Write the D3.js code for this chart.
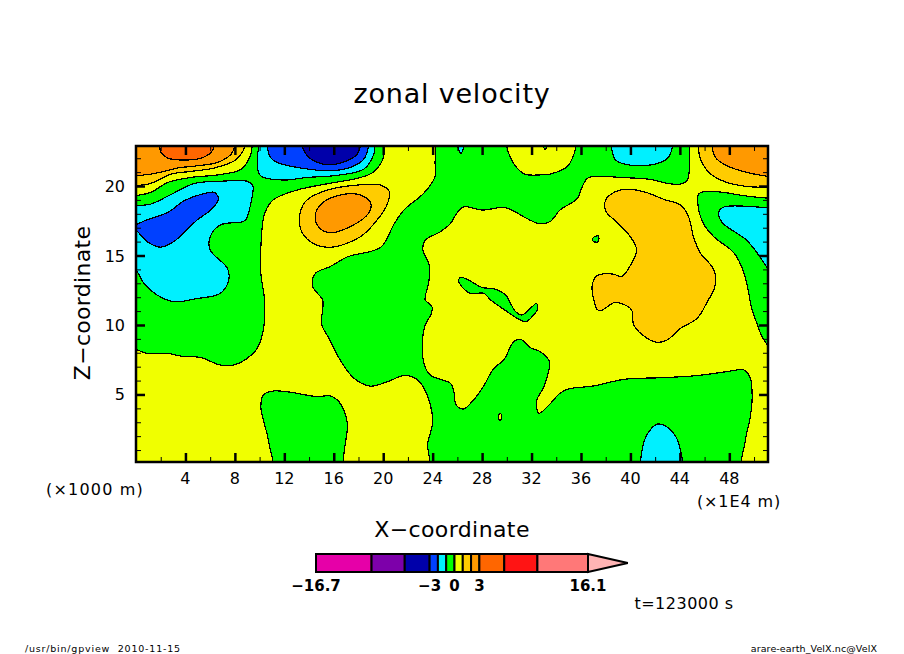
<!DOCTYPE html>
<html>
<head>
<meta charset="utf-8">
<title>zonal velocity</title>
<script src="https://cdn.jsdelivr.net/npm/d3@7"></script>
<style>
body { margin: 0; background: #fff; }
svg { display: block; }
text { font-family: "DejaVu Sans", sans-serif; fill: #000; white-space: pre; }
.axis path { display: none; }
.axis line { stroke: #000; }
.contour { stroke: #000; stroke-width: 1.2; shape-rendering: crispEdges; }
</style>
</head>
<body>
<div id="chart"></div>
<script>
// contour levels and the colour of each band between them
const levels = [-16.7, -10, -6, -3, -2, -1, 0, 1, 2, 3, 6, 10, 16.1]
const bandColors = ['#ff0000', '#e600a8', '#7d00aa', '#0000aa', '#0040ff', '#00f0ff', '#00ff00',
    '#f0ff00', '#ffcc00', '#ff9900', '#ff6600', '#ff1414', '#ff7878', '#ffb4b4']
const barLabels = [-16.7, -3, 0, 3, 16.1]
const barTipValue = 20.9

const xMajorTicks = [4, 8, 12, 16, 20, 24, 28, 32, 36, 40, 44, 48]
const xMinorTicks = [2, 6, 10, 14, 18, 22, 26, 30, 34, 38, 42, 46, 50]
const zMajorTicks = [5, 10, 15, 20]
const zMinorTicks = [1, 2, 3, 4, 6, 7, 8, 9, 11, 12, 13, 14, 16, 17, 18, 19, 21, 22]

// contours: [x (1E4 m), z (1000 m)], closed outside the frame where they leave it
const yellowLeft = [[-1,8.5],[0.1,8.2],[0.9,7.96],[2.5,7.96],[3.9,7.72],[5.2,7.67],[6.8,7.12],[7.9,7.12],[9,7.6],[9.8,8.32],[10.3,9.64],[10.4,11.8],[10.1,13.7],[10.1,15.6],[10.4,18],[11.1,19],[13,19.7],[15.7,20.2],[17.9,20.55],[19.2,21],[20,22],[20.2,23.6],[23.95,23.6],[24.2,21.6],[24.2,20.7],[23.3,19.5],[21.7,18.3],[20.9,17.3],[19.8,15.6],[17.1,14.9],[15.7,14.2],[14.5,13.7],[14.3,12.76],[15.1,11.8],[15.1,11.1],[15,10.1],[15.7,8.9],[16.5,7.5],[17.6,6.2],[18.95,5.6],[20.3,5.9],[21.7,6.36],[22.7,6.1],[23.3,5.45],[23.95,3.65],[23.95,2.7],[23.6,1.5],[23.6,-0.6],[17.1,-0.6],[17.1,2.9],[16.8,3.9],[16.3,4.6],[15.7,4.9],[14.6,4.85],[12.5,5.16],[11.1,5.25],[10.3,4.97],[10.1,4.1],[10.3,3.2],[10.75,1.5],[10.85,-0.6],[-1,-0.6]]
const yellowRight = [[23.4,11.8],[23.95,11.3],[23.9,10.84],[23.4,10],[23.2,9.16],[23.3,7.24],[23.8,6.4],[25.44,5.8],[25.7,5.3],[25.9,4.25],[26.5,3.96],[27.3,4.6],[28.1,5.57],[28.95,6.88],[29.75,7.48],[30.56,8.8],[31.1,8.97],[31.9,8.37],[32.7,8.08],[33.45,7.36],[33.4,6.76],[33,5.57],[32.4,4.5],[32.6,3.65],[33.3,4.13],[34.3,5.09],[35,5.4],[37,5.61],[39.5,6.09],[42.7,6.21],[45.4,6.36],[47.8,6.64],[49.2,6.76],[49.7,6.16],[49.85,4.85],[49.7,3.4],[49.3,1.7],[49.1,-0.6],[52,-0.6],[52,8],[51.1,8.56],[50.65,9.16],[50.2,10.2],[49.85,11.08],[49.2,13.7],[48.4,15.16],[46.75,16.35],[45.9,17.3],[45.44,18.8],[45.5,19.4],[45.93,19.6],[47.55,19.54],[49.2,19.3],[51.1,19.13],[52,19.1],[52,23.6],[44.8,23.6],[44.8,22.8],[44.6,20.43],[44.05,20.14],[43,20.19],[41.6,20.48],[39.5,20.6],[36.6,20.6],[36.1,19.95],[35.7,19.1],[34.3,18.27],[33.5,17.44],[32.6,17.3],[31.6,17.67],[29.9,18.44],[28,18.27],[26.5,18.5],[25.85,17.9],[25.44,17.3],[24.6,16.7],[23.4,16.1],[23.2,15.4],[23.7,14.4],[23.7,13.2],[23.4,12.04]]
const yellowTopLeft = [[-1,19.1],[0,19.3],[1.2,19.54],[2.57,20.26],[4.45,20.62],[6.6,20.8],[8.5,21.2],[9.2,22.06],[9.4,22.9],[9.45,24],[-1,24]]
const yellowTopMid = [[30,23.6],[30,22.83],[30.4,21.87],[30.85,21.27],[31.5,20.84],[32.7,20.8],[33.5,20.86],[34.9,21.4],[35.3,22],[35.6,22.83],[35.6,23.6]]
const yellowSpeck = [[29.3,3.35],[29.45,3.67],[29.6,3.45],[29.45,3.1]]
const goldTopLeft = [[-1,19.9],[0,20.02],[1.2,20.19],[2.85,20.86],[4.45,21.05],[6.35,21.3],[7.96,21.82],[8.6,22.42],[8.8,22.9],[8.85,24],[-1,24]]
const goldTopRight = [[45.45,23.6],[45.5,22.9],[45.66,21.94],[46.5,20.86],[47.8,20.26],[49.4,19.97],[51.1,19.9],[52,19.85],[52,23.6]]
const goldMid = [[13.3,18.15],[13.84,19],[15.45,19.7],[17.9,20.07],[19.77,20.07],[20.5,19.6],[20.3,18.63],[19.5,17.55],[18.15,16.35],[15.7,15.59],[14.1,16],[13.3,16.95]]
const goldRight = [[38.8,19.6],[40,19.76],[41.35,19.52],[42.7,19.04],[44.05,18.63],[44.7,17.8],[45.1,16.35],[45.67,15.16],[46.6,14.2],[46.9,13.48],[46.75,12.52],[46.3,11.8],[45.4,10.48],[44.05,9.76],[42.97,8.92],[42.2,8.75],[41.35,9.04],[40.27,10],[40.1,11.08],[39.06,11.6],[38.65,11.6],[37.6,11.03],[37.3,11.13],[37.04,11.8],[36.9,12.76],[37.2,13.48],[38,13.7],[38.65,13.65],[39.3,13.5],[40,14.3],[40.5,15.4],[40,16.35],[38.9,17.4],[38,18.2],[38,19]]
const orangeTopLeft = [[-1,20.7],[0,20.74],[1.5,20.9],[3.4,21.3],[5,21.46],[6.6,21.7],[7.7,22.3],[8,22.9],[8.05,24],[-1,24]]
const orangeTopRight = [[46.55,23.6],[46.6,22.9],[46.87,22.06],[47.8,21.46],[49.4,20.98],[51.1,20.7],[52,20.6],[52,23.6]]
const orangeMid = [[14.5,17.9],[15.05,18.75],[16.5,19.35],[18.15,19.35],[19,18.75],[18.8,18.03],[17.6,17.2],[15.7,16.64],[14.8,17.03]]
const darkOrangeTop = [[1.85,24],[1.9,22.9],[2.03,22.42],[2.57,22.01],[3.9,21.87],[5.26,22.01],[6.07,22.42],[6.34,22.9],[6.4,24]]
const cyanLeft = [[-1,18.4],[0,18.58],[1.2,18.7],[2.85,19.4],[4.75,20.19],[6.6,20.33],[9.04,20.33],[9.45,20.02],[9.3,18.8],[8.9,17.6],[8.6,17.43],[6.83,17.2],[6,16.35],[6,15.4],[7.4,14.07],[7.5,13.24],[6.83,12.28],[4.94,11.9],[3.05,11.68],[1.7,12.16],[0.63,13],[0.09,13.84],[-1,14.6]]
const cyanTopMid = [[9.9,24],[9.93,22.9],[9.8,21.82],[10.07,20.74],[11.96,20.43],[13.85,20.62],[16,20.74],[18.43,21.22],[19.24,22.3],[19.3,22.9],[19.35,24]]
const cyanTopSmall = [[26,23.6],[26.05,22.8],[26.3,22.35],[26.5,22.8],[26.55,23.6]]
const cyanTopRight = [[38.35,23.6],[38.45,22.8],[38.8,21.87],[40,21.5],[41.9,21.56],[43,22],[43.4,22.8],[43.45,23.6]]
const cyanRight = [[52,18.4],[51.1,18.44],[47.6,18.5],[47.15,18.15],[47.4,17.4],[49.4,16.1],[50.4,15],[51.1,14.08],[52,13.2]]
const cyanBottom = [[41,-0.6],[41,1.25],[41.5,2.33],[42.15,2.86],[42.8,2.76],[43.5,2.2],[43.9,1.49],[44.1,-0.6]]
const blueLeft = [[-0.3,17],[0.7,17.5],[2.57,18.1],[3.9,18.94],[5.26,19.4],[6.34,19.54],[6.67,19.06],[6.07,18.3],[4.94,17.55],[3.05,16],[1.97,15.6],[0.9,16],[0.05,16.8]]
const blueTop = [[10.55,24],[10.6,22.9],[10.88,22.06],[11.4,21.7],[13.3,21.3],[15.73,21.1],[17.35,21.34],[18.43,21.94],[18.83,22.9],[18.9,24]]
const darkBlueTop = [[13.4,24],[13.44,22.9],[13.85,22.18],[14.65,21.7],[15.73,21.53],[17.08,21.82],[17.9,22.3],[18.16,22.9],[18.2,24]]
const greenFilament = [[26.1,13.24],[26.25,13.43],[26.8,13.28],[28,12.7],[28.95,12.6],[29.9,12.16],[30.3,11.56],[30.7,10.96],[31.24,10.72],[32.05,11.32],[32.4,11.56],[32.45,11.08],[32.05,10.6],[31.5,10.24],[29.75,11.13],[28.7,11.8],[28.14,12.28],[27.06,12.28],[26.25,12.88]]
const greenSpeck = [[36.95,16.1],[37,16.3],[37.4,16.4],[37.4,16],[37,16]]
const greenTopSpeck = [[32.85,23.2],[33.35,23.2],[33.1,22.65]]

// [band value, contour], painted in this order on top of the green background
const regions = [
    [0.5, yellowLeft], [0.5, yellowRight], [0.5, yellowTopLeft], [0.5, yellowTopMid],
    [1.5, goldTopLeft], [1.5, goldTopRight], [1.5, goldMid], [1.5, goldRight],
    [2.5, orangeTopLeft], [2.5, orangeTopRight], [2.5, orangeMid],
    [4, darkOrangeTop],
    [-1.5, cyanLeft], [-1.5, cyanTopMid], [-1.5, cyanTopSmall], [-1.5, cyanTopRight], [-1.5, cyanRight], [-1.5, cyanBottom],
    [-2.5, blueLeft], [-2.5, blueTop],
    [-4, darkBlueTop],
    [-0.5, greenFilament], [-0.5, greenSpeck], [-0.5, greenTopSpeck],
    [0.5, yellowSpeck]
]
const backgroundValue = -0.5

const margin = {top: 146, right: 136, bottom: 192, left: 136}
const svgWidth = 904
const svgHeight = 654
const width = svgWidth - margin.left - margin.right
const height = svgHeight - margin.top - margin.bottom

const xScale = d3.scaleLinear().domain([0, 51.13]).range([0, width])
const zScale = d3.scaleLinear().domain([0.14, 22.88]).range([height, 0])
const barScale = d3.scaleLinear().domain([-16.7, 16.1]).range([316, 588])
const color = d3.scaleThreshold().domain(levels).range(bandColors)

const svg = d3.select('#chart').append('svg')
    .attr('width', svgWidth)
    .attr('height', svgHeight)

const label = (x, y, size, spacing, text, anchor = 'middle') => svg.append('text')
    .attr('x', x)
    .attr('y', y)
    .attr('font-size', size)
    .attr('letter-spacing', spacing)
    .attr('text-anchor', anchor)
    .text(text)

svg.append('defs').append('clipPath').attr('id', 'frame')
    .append('rect').attr('width', width).attr('height', height)

const plot = svg.append('g').attr('transform', `translate(${margin.left},${margin.top})`)

plot.append('rect')
    .attr('width', width)
    .attr('height', height)
    .attr('fill', color(backgroundValue))

const contourLine = d3.line()
    .x(d => xScale(d[0]))
    .y(d => zScale(d[1]))
    .curve(d3.curveCatmullRomClosed.alpha(0.5))

plot.append('g').attr('clip-path', 'url(#frame)')
    .selectAll('path')
    .data(regions)
    .enter()
    .append('path')
    .attr('class', 'contour')
    .attr('d', d => contourLine(d[1]))
    .attr('fill', d => color(d[0]))

// ticks point inward on all four sides
const drawTicks = (axis, scale, values, size, weight, transform = '') => {
    plot.append('g')
        .attr('class', 'axis')
        .attr('transform', transform)
        .call(axis(scale).tickValues(values).tickSize(-size).tickFormat(''))
        .selectAll('line')
        .attr('stroke-width', weight)
}
const sides = [
    [d3.axisBottom, xScale, `translate(0,${height})`, xMajorTicks, xMinorTicks],
    [d3.axisTop, xScale, '', xMajorTicks, xMinorTicks],
    [d3.axisLeft, zScale, '', zMajorTicks, zMinorTicks],
    [d3.axisRight, zScale, `translate(${width},0)`, zMajorTicks, zMinorTicks]
]
sides.forEach(([axis, scale, transform, major, minor]) => {
    drawTicks(axis, scale, major, 9, 2.5, transform)
    drawTicks(axis, scale, minor, 5, 1, transform)
})

plot.append('rect')
    .attr('width', width)
    .attr('height', height)
    .attr('fill', 'none')
    .attr('stroke', '#000')
    .attr('stroke-width', 2.5)

// tick labels
plot.selectAll('.xlabel')
    .data(xMajorTicks)
    .enter()
    .append('text')
    .attr('class', 'xlabel')
    .attr('x', d => xScale(d))
    .attr('y', height + 22)
    .attr('font-size', 16)
    .attr('text-anchor', 'middle')
    .text(d => d)

plot.selectAll('.zlabel')
    .data(zMajorTicks)
    .enter()
    .append('text')
    .attr('class', 'zlabel')
    .attr('x', -11)
    .attr('y', d => zScale(d) + 6)
    .attr('font-size', 16)
    .attr('text-anchor', 'end')
    .text(d => d)

// titles
label(452, 103, 27, 0.8, 'zonal velocity')
label(452, 537, 22, 0.4, 'X\u2212coordinate')
label(95, 495, 16, 1.2, '(\u00d71000 m)')
label(739, 507, 16, 0.9, '(\u00d71E4 m)')
label(684, 609, 16, 0.5, 't=123000 s')
label(25, 652, 9.5, 0.8, '/usr/bin/gpview  2010-11-15', 'start')
label(877, 652, 9.5, 0.1, 'arare-earth_VelX.nc@VelX', 'end')

svg.append('text')
    .attr('transform', 'translate(90,303)rotate(-90)')
    .attr('font-size', 22)
    .attr('letter-spacing', 0.3)
    .attr('text-anchor', 'middle')
    .text('Z\u2212coordinate')

// colour bar
const barTop = 554
const barHeight = 18
const barBands = d3.pairs(levels)

svg.append('path')
    .attr('d', d3.line()([[barScale(16.1), barTop], [barScale(barTipValue), barTop + barHeight / 2], [barScale(16.1), barTop + barHeight]]) + 'Z')
    .attr('fill', color(16.1))
    .attr('stroke', '#000')
    .attr('stroke-width', 2)

svg.selectAll('.band')
    .data(barBands)
    .enter()
    .append('rect')
    .attr('class', 'band')
    .attr('x', d => barScale(d[0]))
    .attr('y', barTop)
    .attr('width', d => barScale(d[1]) - barScale(d[0]))
    .attr('height', barHeight)
    .attr('fill', d => color(d[0]))
    .attr('stroke', '#000')
    .attr('stroke-width', 2)

svg.selectAll('.barlabel')
    .data(barLabels)
    .enter()
    .append('text')
    .attr('class', 'barlabel')
    .attr('x', d => barScale(d))
    .attr('y', 591)
    .attr('font-size', 15)
    .attr('font-weight', 'bold')
    .attr('text-anchor', 'middle')
    .text(d => String(d).replace('-', '\u2212'))
</script>
</body>
</html>
